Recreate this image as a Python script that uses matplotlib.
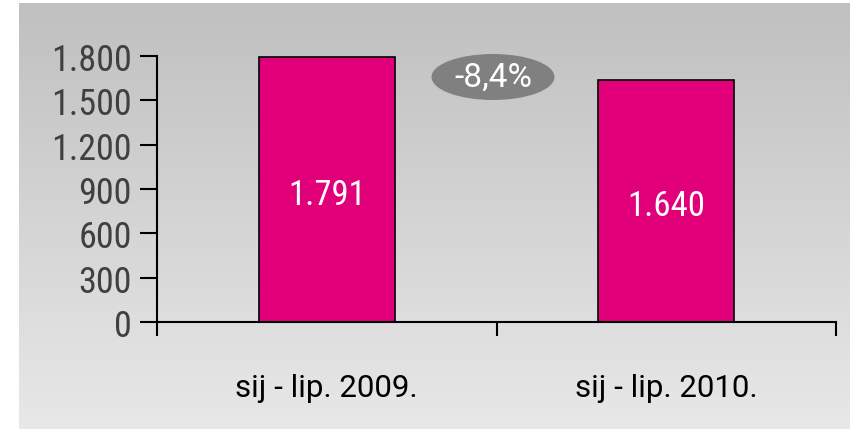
import numpy as np
import matplotlib
matplotlib.use("Agg")
import matplotlib.pyplot as plt
from matplotlib.patches import Ellipse
from matplotlib.ticker import FuncFormatter

# ------------------------------------------------------------
# Data
# ------------------------------------------------------------

categories = ["sij - lip. 2009.", "sij - lip. 2010."]
values = [1791, 1640]
change_label = "-8,4%"
y_ticks = [0, 300, 600, 900, 1200, 1500, 1800]

BAR_COLOR = "#E2007A"

plt.rcParams["font.family"] = ["Roboto Condensed", "DejaVu Sans"]
plt.rcParams["font.stretch"] = "condensed"

WIDE = dict(family=["Roboto", "DejaVu Sans"], stretch="normal")


def dotted(v, pos=None):
    return f"{int(v):,}".replace(",", ".")


fig = plt.figure(figsize=(8.5, 4.31), dpi=100, facecolor="white")

# ------------------------------------------------------------
# Gradient background panel
# ------------------------------------------------------------

bg = fig.add_axes([19 / 850, 1 - 430 / 431, 831 / 850, 426 / 431], zorder=0)
grad = np.linspace(0, 1, 256).reshape(-1, 1)
bg.imshow(grad, aspect="auto", cmap=matplotlib.colors.LinearSegmentedColormap.from_list(
    "g", ["#C0C0C0", "#E8E8E8"]), extent=[0, 1, 0, 1], origin="upper")
bg.set_axis_off()

# ------------------------------------------------------------
# Bars
# ------------------------------------------------------------

ax = fig.add_axes([157 / 850, 108 / 431, 679 / 850, 266 / 431], zorder=1)
ax.patch.set_visible(False)

x = np.arange(len(categories))
bars = ax.bar(x, values, width=0.4, color=BAR_COLOR, edgecolor="black", linewidth=1.2)

for b, v in zip(bars, values):
    ax.text(b.get_x() + b.get_width() / 2, v / 2 - 30, dotted(v),
            ha="center", va="center", color="white", fontsize=25)

ax.set_xlim(-0.5, 1.5)
ax.set_ylim(0, 1800)
ax.set_yticks(y_ticks)
ax.yaxis.set_major_formatter(FuncFormatter(dotted))
ax.set_xticks([-0.5, 0.5, 1.5])
ax.set_xticklabels([])
ax.set_xticks(x, minor=True)
ax.set_xticklabels(categories, minor=True, fontsize=22.5, **WIDE)

ax.tick_params(axis="y", length=12, width=1.5, labelsize=26, labelcolor="#404040", pad=6)
ax.tick_params(axis="x", which="major", length=10, width=1.5)
ax.tick_params(axis="x", which="minor", length=0, labelcolor="black", pad=37)

for side in ["top", "right"]:
    ax.spines[side].set_visible(False)
for side in ["left", "bottom"]:
    ax.spines[side].set_linewidth(1.5)

# ------------------------------------------------------------
# Change badge
# ------------------------------------------------------------

badge = Ellipse((493 / 850, 1 - 78 / 431), 123 / 850, 46 / 431,
                transform=fig.transFigure, facecolor="#808080", edgecolor="none", zorder=3)
fig.patches.append(badge)
fig.text(493 / 850, 1 - 78 / 431, change_label, ha="center", va="center",
         color="white", fontsize=24, zorder=4, **WIDE)

fig.savefig("out.png", dpi=100, facecolor="white")
